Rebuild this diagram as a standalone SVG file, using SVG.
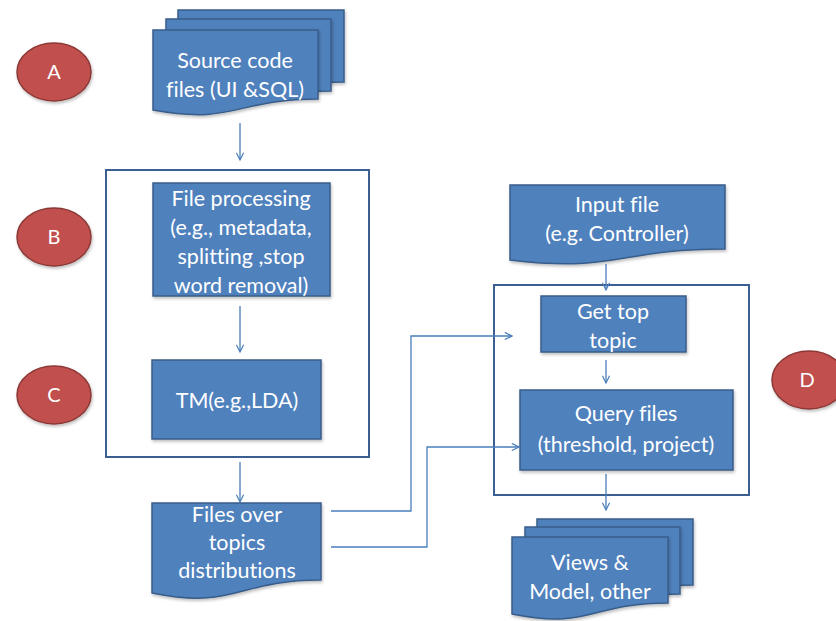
<svg xmlns="http://www.w3.org/2000/svg" width="836" height="621" viewBox="0 0 836 621">
  <defs>
    <marker id="arr" viewBox="0 0 10 10" refX="9" refY="5" markerWidth="9" markerHeight="9" markerUnits="userSpaceOnUse" orient="auto">
      <path d="M1,1 L9,5 L1,9" fill="none" stroke="#4a7ebb" stroke-width="1.3"/>
    </marker>
    <filter id="sh" x="-10%" y="-10%" width="130%" height="130%">
      <feDropShadow dx="1" dy="2" stdDeviation="1.5" flood-color="#000" flood-opacity="0.25"/>
    </filter>
  </defs>
  <style>
    .box { fill: #4f81bd; stroke: #385d8a; stroke-width: 1.5; filter: url(#sh); }
    .frame { fill: none; stroke: #3b5f90; stroke-width: 2; }
    .lbl { fill: #ffffff; font-family: Lato, "Open Sans", sans-serif; font-size: 21.5px; text-anchor: middle; font-variant-ligatures: none; }
    .tag { fill: #c0504d; stroke: #8c3836; stroke-width: 1.5; filter: url(#sh); }
    .tagtxt { fill: #ffffff; font-family: Lato, "Liberation Sans", sans-serif; font-size: 20px; text-anchor: middle; }
    .conn { fill: none; stroke: #4a7ebb; stroke-width: 1.3; marker-end: url(#arr); }
  </style>

  <rect width="836" height="621" fill="#ffffff"/>

  <!-- step tags -->
  <g id="tagA"><ellipse class="tag" cx="54" cy="72" rx="37" ry="29"/><text class="tagtxt" x="54" y="79">A</text></g>
  <g id="tagB"><ellipse class="tag" cx="54" cy="237" rx="37" ry="29"/><text class="tagtxt" x="54" y="244">B</text></g>
  <g id="tagC"><ellipse class="tag" cx="54" cy="395" rx="37" ry="29"/><text class="tagtxt" x="54" y="402">C</text></g>
  <g id="tagD"><ellipse class="tag" cx="809" cy="380" rx="37" ry="29"/><text class="tagtxt" x="807" y="387">D</text></g>

  <!-- frames -->
  <g id="frameBC"><rect class="frame" x="106" y="170" width="263" height="287"/></g>
  <g id="frameD"><rect class="frame" x="494" y="285" width="255" height="210"/></g>

  <!-- source code files (multi-document) -->
  <g id="source">
    <path class="box" d="M178,10 H344 V82 C261,82 261,104 178,91 Z"/>
    <path class="box" d="M166,19 H331 V91 C248,91 248,113 166,100 Z"/>
    <path class="box" d="M153,30 H318 V99 C235,99 235,125 153,110 Z"/>
    <text class="lbl" x="235" y="68">Source code</text>
    <text class="lbl" x="235" y="97">files (UI &amp;SQL)</text>
  </g>

  <!-- file processing -->
  <g id="processing">
    <rect class="box" x="153" y="183" width="177" height="113"/>
    <text class="lbl" x="241" y="206">File processing</text>
    <text class="lbl" x="241" y="235">(e.g., metadata,</text>
    <text class="lbl" x="241" y="264">splitting ,stop</text>
    <text class="lbl" x="241" y="293">word removal)</text>
  </g>

  <!-- topic modelling -->
  <g id="tm">
    <rect class="box" x="152" y="360" width="169" height="79"/>
    <text class="lbl" x="237" y="408">TM(e.g.,LDA)</text>
  </g>

  <!-- files over topics distributions -->
  <g id="distributions">
    <path class="box" d="M152,503 H321 V580 C236,580 236,610 152,593 Z"/>
    <text class="lbl" x="237" y="522">Files over</text>
    <text class="lbl" x="237" y="550">topics</text>
    <text class="lbl" x="237" y="578">distributions</text>
  </g>

  <!-- input file -->
  <g id="input">
    <path class="box" d="M510,185 H725 V249 C617,249 617,273 510,260 Z"/>
    <text class="lbl" x="617" y="212">Input file</text>
    <text class="lbl" x="617" y="241">(e.g. Controller)</text>
  </g>

  <!-- get top topic -->
  <g id="toptopic">
    <rect class="box" x="541" y="296" width="145" height="56"/>
    <text class="lbl" x="613" y="319">Get top</text>
    <text class="lbl" x="613" y="348">topic</text>
  </g>

  <!-- query files -->
  <g id="query">
    <rect class="box" x="520" y="390" width="213" height="80"/>
    <text class="lbl" x="626" y="421">Query files</text>
    <text class="lbl" x="626" y="452">(threshold, project)</text>
  </g>

  <!-- views and model (multi-document) -->
  <g id="views">
    <path class="box" d="M537,519 H693 V585 C615,585 615,606 537,595 Z"/>
    <path class="box" d="M525,527 H680 V594 C602,594 602,616 525,604 Z"/>
    <path class="box" d="M512,537 H668 V603 C590,603 590,630 512,614 Z"/>
    <text class="lbl" x="590" y="570">Views &amp;</text>
    <text class="lbl" x="590" y="599">Model, other</text>
  </g>

  <!-- connectors -->
  <g id="connectors">
    <path class="conn" d="M240,123 V160"/>
    <path class="conn" d="M240,306 V352"/>
    <path class="conn" d="M240,462 V502"/>
    <path class="conn" d="M606,264 V290"/>
    <path class="conn" d="M606,360 V383"/>
    <path class="conn" d="M606,474 V510"/>
    <path class="conn" d="M331,511 H411 V336 H512"/>
    <path class="conn" d="M331,547 H427 V447 H519"/>
  </g>
</svg>
